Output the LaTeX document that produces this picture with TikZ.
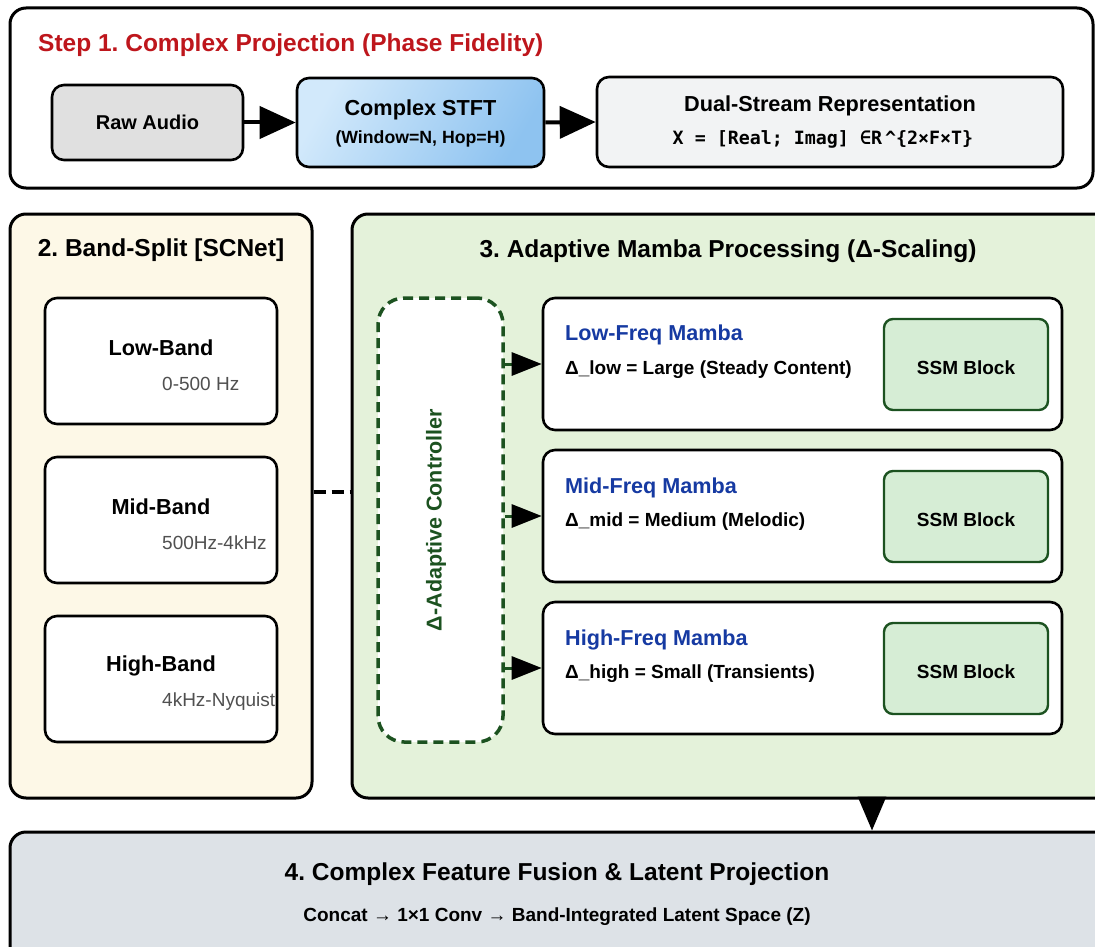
\documentclass[tikz,border=0pt]{standalone}
\usepackage{fontspec}
\setmainfont{Liberation Sans}
\newfontfamily\codefont{DejaVu Sans Mono}
\usetikzlibrary{arrows.meta}
\frenchspacing

\definecolor{stepred}{RGB}{190,22,28}
\definecolor{mambablue}{RGB}{22,58,162}
\definecolor{ctrlgreen}{RGB}{28,82,32}
\definecolor{creambg}{RGB}{253,248,231}
\definecolor{greenbg}{RGB}{228,242,218}
\definecolor{ssmfill}{RGB}{214,237,213}
\definecolor{fusionbg}{RGB}{221,226,231}
\definecolor{rawfill}{RGB}{224,224,224}
\definecolor{dualfill}{RGB}{242,243,244}
\definecolor{stftlight}{RGB}{210,233,251}
\definecolor{stftdark}{RGB}{142,195,240}
\definecolor{hzgray}{RGB}{80,80,80}

\newcommand\setfs[1]{\fontsize{#1}{#1}\selectfont}

\tikzset{
  panel/.style={draw=black, line width=3pt, rounded corners=16pt, inner sep=0pt},
  box/.style={draw=black, line width=2.6pt, rounded corners=12pt, fill=white, inner sep=0pt},
  ssmbox/.style={draw=ctrlgreen, line width=2.4pt, rounded corners=9pt, fill=ssmfill, inner sep=0pt},
  ctrlbox/.style={draw=ctrlgreen, line width=3.5pt, dash pattern=on 10pt off 6pt, rounded corners=26pt, fill=white, inner sep=0pt},
  txt/.style={inner sep=0pt, text=black},
  paneltitle/.style={txt, font=\bfseries\setfs{24.5}},
  boxtitle/.style={txt, font=\bfseries\setfs{21.7}},
  subtext/.style={txt, font=\bfseries\setfs{19}},
  hztext/.style={txt, anchor=west, text=hzgray, font=\setfs{19}},
  mtitle/.style={txt, anchor=west, text=mambablue, font=\bfseries\setfs{21.6}},
  flow/.style={line width=4pt, -{Triangle[length=36pt,width=32pt]}},
  ctrlflow/.style={draw=ctrlgreen, line width=3pt, dash pattern=on 10pt off 6pt,
    -{Triangle[length=30pt,width=23pt,color=black]}},
}

\begin{document}
\begin{tikzpicture}[x=1pt,y=-1pt]
\useasboundingbox (0,0) rectangle (1095,947);

% ---- Step 1: complex projection ----
\node[panel, fill=white, minimum width=1083pt, minimum height=180pt] (step) at (551.5,98) {};
\node[txt, anchor=west, text=stepred, font=\bfseries\setfs{24.5}] (steptitle) at (38,45)
  {Step 1. Complex Projection (Phase Fidelity)};

\node[box, fill=rawfill, minimum width=191pt, minimum height=75pt] (raw) at (147.5,122.5) {};
\node[txt, font=\bfseries\setfs{20}] (rawlbl) at (raw) {Raw Audio};

\node[box, left color=stftlight, right color=stftdark, shading angle=60,
      minimum width=247pt, minimum height=89pt] (stft) at (420.5,122.5) {};
\node[boxtitle] (stftlbl) at (420.5,110) {Complex STFT};
\node[txt, font=\bfseries\setfs{17.7}] (stftsub) at (420.5,138.5) {(Window=N, Hop=H)};

\node[box, fill=dualfill, minimum width=466pt, minimum height=90pt] (dual) at (830,122) {};
\node[boxtitle] (duallbl) at (830,106) {Dual-Stream Representation};
\node[txt, font=\codefont\bfseries\setfs{18.3}] (dualsub) at (823,139.5) {X = [Real; Imag] ∈R\,\^{}\{2×F×T\}};

\draw[flow] (raw.east) -- (stft.west);
\draw[flow] (stft.east) -- (dual.west);

% ---- Panel 2: band split ----
\node[panel, fill=creambg, minimum width=302pt, minimum height=584pt] (band) at (161,506) {};
\node[paneltitle] (bandtitle) at (161,250.5) {2. Band-Split [SCNet]};

\node[box, minimum width=232pt, minimum height=126pt] (lowb) at (161,361) {};
\node[boxtitle] (lowblbl) at (161,348) {Low-Band};
\node[hztext] (lowbhz) at (162,384) {0-500 Hz};

\node[box, minimum width=232pt, minimum height=126pt] (midb) at (161,520) {};
\node[boxtitle] (midblbl) at (161,507) {Mid-Band};
\node[hztext] (midbhz) at (162,543) {500Hz-4kHz};

\node[box, minimum width=232pt, minimum height=126pt] (highb) at (161,679) {};
\node[boxtitle] (highblbl) at (161,666) {High-Band};
\node[hztext] (highbhz) at (162,702) {4kHz-Nyquist};

% ---- Panel 3: adaptive Mamba ----
\node[panel, fill=greenbg, minimum width=770pt, minimum height=584pt] (mamba) at (737,506) {};
\node[paneltitle] (mambatitle) at (728,251) {3. Adaptive Mamba Processing (Δ-Scaling)};

\coordinate (bridge) at (330,492);
\draw[line width=4pt, dash pattern=on 12pt off 6pt] (band.east |- bridge) -- (mamba.west |- bridge);

\node[ctrlbox, minimum width=125pt, minimum height=444pt] (ctrl) at (440.5,520) {};
\node[txt, rotate=90, text=ctrlgreen, font=\bfseries\setfs{21.5}] (ctrllbl) at (436,520) {Δ-Adaptive Controller};

\node[box, minimum width=519pt, minimum height=132pt] (lowm) at (802.5,364) {};
\node[mtitle] (lowmt) at (565,335) {Low-Freq Mamba};
\node[subtext, anchor=west] (lowms) at (565,370) {Δ\_low = Large (Steady Content)};
\node[ssmbox, minimum width=164pt, minimum height=91pt] (ssmlow) at (966,364.5) {};
\node[subtext] (ssmlowlbl) at (966,368) {SSM Block};

\node[box, minimum width=519pt, minimum height=132pt] (midm) at (802.5,516) {};
\node[mtitle] (midmt) at (565,488) {Mid-Freq Mamba};
\node[subtext, anchor=west] (midms) at (565,522) {Δ\_mid = Medium (Melodic)};
\node[ssmbox, minimum width=164pt, minimum height=91pt] (ssmmid) at (966,516.5) {};
\node[subtext] (ssmmidlbl) at (966,520) {SSM Block};

\node[box, minimum width=519pt, minimum height=132pt] (highm) at (802.5,668) {};
\node[mtitle] (highmt) at (565,640) {High-Freq Mamba};
\node[subtext, anchor=west] (highms) at (565,674) {Δ\_high = Small (Transients)};
\node[ssmbox, minimum width=164pt, minimum height=91pt] (ssmhigh) at (966,668.5) {};
\node[subtext] (ssmhighlbl) at (966,672) {SSM Block};

\draw[ctrlflow] (ctrl.east |- lowm.west) -- (lowm.west);
\draw[ctrlflow] (ctrl.east |- midm.west) -- (midm.west);
\draw[ctrlflow] (ctrl.east |- highm.west) -- (highm.west);

% ---- Panel 4: fusion ----
\node[panel, fill=fusionbg, minimum width=1110pt, minimum height=140pt] (fusion) at (565,902) {};
\node[paneltitle] (fusiontitle) at (557,874) {4. Complex Feature Fusion \& Latent Projection};
\node[subtext] (fusionsub) at (557,917) {Concat → 1×1 Conv → Band-Integrated Latent Space (Z)};

\coordinate (fusein) at (872,832);
\draw[line width=3pt, -{Triangle[length=34pt,width=28pt]}] (mamba.south -| fusein) -- (fusion.north -| fusein);
\end{tikzpicture}
\end{document}
